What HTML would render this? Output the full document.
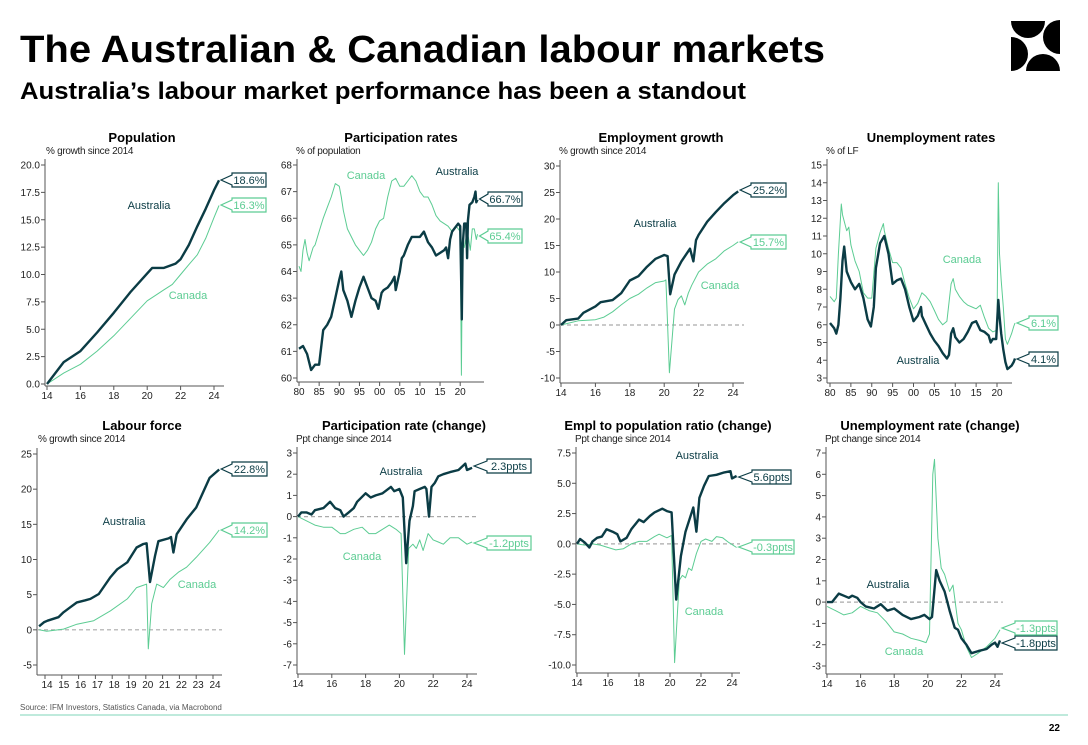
<!DOCTYPE html>
<html><head><meta charset="utf-8"><style>
html,body{margin:0;padding:0;background:#fff;}
svg{display:block;font-family:"Liberation Sans",Arial,sans-serif;}
</style></head><body>
<svg id="root" width="1088" height="745" viewBox="0 0 1088 745">
<text x="20" y="62" font-size="38" font-weight="bold" fill="#000" textLength="805" lengthAdjust="spacingAndGlyphs">The Australian &amp; Canadian labour markets</text>
<text x="20" y="99" font-size="24" font-weight="bold" fill="#000" textLength="726" lengthAdjust="spacingAndGlyphs">Australia’s labour market performance has been a standout</text>
<g>
<path d="M1011 21 A17 17 0 0 0 1045 21 Z" fill="#000"/>
<path d="M1060 20 A17 17 0 0 0 1060 54 Z" fill="#000"/>
<path d="M1060 71 A17 17 0 0 0 1026 71 Z" fill="#000"/>
<path d="M1011 71 A17 17 0 0 0 1011 37 Z" fill="#000"/>
</g>
<g id="charts"></g>
<text x="20" y="710" font-size="8" fill="#555">Source: IFM Investors, Statistics Canada, via Macrobond</text>
<line x1="20" y1="715" x2="1068" y2="715" stroke="#7fd6b8" stroke-width="1"/>
<text x="1060" y="731" font-size="10" font-weight="bold" fill="#000" text-anchor="end">22</text>
</svg>
<script>
// ---- data ----
const popDates=[14,15,16,17,18,19,20,20.3,21,21.7,22,22.5,23,23.5,24,24.3];
const popAus=[0,2,3,4.7,6.5,8.4,10.1,10.6,10.6,11,11.4,12.7,14.4,16,17.7,18.6];
const popCanDates=[14,15,16,17,18,19,20,20.5,21,21.5,22,22.5,23,23.5,24,24.3];
const popCan=[0,1,1.8,3,4.4,6,7.6,8.1,8.6,9.1,10,10.9,11.8,13.3,15.2,16.3];

const partAusDates=[80,81,82,83,84,85,86,87,88,89,90,90.5,91,92,93,94,95,96,97,98,99,99.7,100.5,101,102,103,103.7,104,105,105.5,106,107,108,109,110,111,112,113,114,115,116,116.5,117,117.5,118,119,119.5,120,120.3,120.4,120.6,121,121.5,121.7,121.9,122.3,123,123.5,123.8,124,124.3];
const partAus=[61.1,61.2,60.9,60.3,60.5,60.5,61.8,62,62.3,63,63.7,64,63.3,62.9,62.3,62.9,63.4,63.8,63.4,63,62.9,62.6,63.2,63.3,63.4,63.6,63.8,63.3,64,64.5,64.6,65,65.3,65.3,65.3,65.5,65.1,64.9,64.6,64.7,64.8,64.9,64.5,65.2,65.5,65.7,65.8,65.7,63.2,62.2,64.9,65.8,65.8,64.5,65.9,66.5,66.6,66.8,67,66.6,66.7];
const partCanDates=[80,80.5,81,81.5,82,82.5,83.5,84,85,86,87,88,89,90,90.5,91,92,93,94,95,96,97,98,99,100,101,102,103,104,105,106,107,108,109,110,111,112,113,114,115,116,117,118,119,120,120.3,120.5,120.8,121,121.5,122,122.5,123,123.5,124,124.3];
const partCan=[64.2,64,64.8,65.2,64.7,64.4,64.9,65,65.5,66,66.4,66.8,67.3,67.2,66.8,66.3,65.6,65.3,65,64.8,64.6,64.8,65.1,65.6,65.9,66,66.8,67.4,67.5,67.2,67.2,67.4,67.6,67.4,67,66.8,66.8,66.5,66.1,65.9,65.8,65.7,65.5,65.7,65.5,60.1,63.9,65,64.9,65.3,65.3,64.8,65.6,65.6,65.2,65.4];

const empAusDates=[14,14.3,15,15.3,16,16.3,17,17.5,18,18.5,19,19.5,20,20.2,20.35,20.6,21,21.5,21.7,21.85,22,22.5,23,23.5,24,24.3];
const empAus=[0,0.9,1.2,2.3,3.5,4.3,4.7,6,8.4,9.2,11,12.5,13.2,13,5.8,9.5,12,14.4,12,16,17,19.5,21.3,23,24.5,25.2];
const empCanDates=[14,15,16,16.5,17,17.5,18,18.5,19,19.5,20,20.1,20.3,20.6,20.8,21,21.2,21.4,21.6,22,22.5,23,23.5,24,24.3];
const empCan=[0,0.8,1,1.5,2.5,3.8,5,5.8,7,8,8.3,8.5,-9,3,4.8,5.5,3.8,6,7.5,10,11.5,12.5,14,15,15.7];

const unAusDates=[80,81,81.5,82,82.5,83,83.4,84,85,86,87,88,89,89.8,90.5,91,92,93,94,95,96,97,98,99,100,101,101.8,102,103,104,105,106,107,108,108.5,109,109.5,110,111,112,113,114,115,116,117,118,118.5,119,119.8,120.3,120.6,121,121.5,122,122.5,123,123.5,124,124.3];
const unAus=[6.1,5.8,5.5,6,7.5,9.6,10.4,9,8.4,8,8.3,7.5,6.3,5.9,7,9.2,10.6,11,10,8.3,8.5,8.6,8,7,6.2,6.5,7,6.5,6,5.5,5.1,4.8,4.4,4.1,4.3,5.5,5.8,5.3,5,5.2,5.6,6.1,6.2,5.7,5.6,5.4,5,5.2,5.2,7.4,6.5,5.5,4.6,3.9,3.5,3.6,3.7,3.9,4.1];
const unCanDates=[80,81,81.5,82,82.7,83,84,84.5,85,86,87,88,89,90,91,92,92.8,93,94,95,96,97,98,99,100,101,102,103,104,105,106,107,108,109,109.5,110,111,112,113,114,115,116,117,118,119,120,120.3,120.6,121,121.5,122,122.5,123,123.5,124,124.3];
const unCan=[7.6,7.3,7.5,10,12.8,12.2,11.3,11.5,10.5,9.6,9,7.8,7.5,7.5,10.3,11.2,11.7,11.3,10.3,9.5,9.5,9.2,8.3,7.5,6.9,7.2,7.8,7.6,7.3,6.8,6.3,6,6.2,8.3,8.6,8,7.6,7.3,7.1,7,6.9,7.1,6.4,5.8,5.6,5.7,14,10,8.5,7,5.2,4.9,5.2,5.5,5.9,6.1];

const lfAusDates=[13.65,13.95,14.15,14.8,15.1,15.5,15.9,16.4,16.7,17.2,17.9,18.3,18.9,19.45,19.85,20.05,20.25,20.55,20.75,21.35,21.5,21.64,21.84,22.43,23,23.8,24.37];
const lfAus=[0.5,1.1,1.3,1.8,2.5,3.2,3.9,4.2,4.4,5.1,7.5,8.6,9.6,11.7,12.2,12.3,6.8,10.5,12.6,13,13.2,11,13.6,15.7,17.4,21.6,22.8];
const lfCanDates=[13.65,14.1,15.1,15.9,16.9,17.9,18.9,19.45,20.05,20.15,20.35,20.65,21.05,21.45,21.94,22.43,23,23.8,24.37];
const lfCan=[0,-0.2,0.1,0.8,1.3,2.7,4.4,6,6.5,-2.7,3.7,6.5,6,7.2,8.2,8.9,10.3,12.4,14.2];

const prcAusDates=[14,14.2,14.5,14.8,15,15.5,15.9,16.2,16.5,16.7,17,17.3,17.5,18,18.3,18.6,19,19.5,19.7,20,20.2,20.4,20.6,20.8,20.9,21.2,21.5,21.6,21.75,21.9,22.1,22.3,22.6,23,23.5,23.9,24,24.3];
const prcAus=[0,0.2,0.2,0.1,0.3,0.4,0.7,0.4,0.3,0,0.2,0.4,0.7,1.1,0.9,1,1.1,1.4,1.2,1.3,0.9,-2.2,-0.2,0.5,1.2,1.3,1.4,1.3,0,1.4,1.6,1.9,2,2.1,2.2,2.5,2.2,2.3];
const prcCanDates=[14,14.5,15,15.5,16,16.5,16.8,17.3,17.8,18.2,18.6,19,19.4,19.8,20.1,20.3,20.55,20.8,21,21.2,21.4,21.7,22,22.3,22.6,23,23.5,24,24.3];
const prcCan=[0,-0.2,-0.4,-0.5,-0.5,-0.8,-0.8,-0.6,-0.5,-0.8,-0.8,-0.6,-0.4,-0.6,-0.8,-6.5,-1.5,-1.3,-1.5,-1.1,-1.6,-0.8,-1.1,-1.2,-1.3,-1,-1,-1.3,-1.2];

const eprAusDates=[14,14.2,14.5,14.8,15,15.3,15.6,15.9,16.3,16.6,16.8,17.2,17.5,18,18.3,18.7,19,19.5,19.8,20.1,20.4,20.7,21,21.5,21.7,21.9,22.2,22.5,23,23.5,23.9,24,24.3];
const eprAus=[0,0.4,0.1,-0.3,0.2,0.5,0.6,1.2,1,0.8,0.2,0.5,1.2,2,1.8,2.3,2.6,2.9,2.7,2.6,-4.6,-1,1,3,1,3.8,4.8,5.6,5.7,5.9,6,5.4,5.6];
const eprCanDates=[14,14.5,15,15.5,16,16.5,17,17.5,18,18.5,19,19.3,19.8,20.1,20.3,20.6,20.8,21,21.2,21.4,21.7,22,22.3,22.7,23,23.4,23.8,24.3];
const eprCan=[0,-0.1,0,-0.1,-0.3,-0.5,-0.4,0,0.2,0.2,0.6,0.8,0.5,0.7,-9.8,-3,-2.6,-2.8,-2,-2.2,-0.8,0.2,0.4,0.2,0.6,0.5,0.1,-0.3];

const urcAusDates=[14,14.3,14.7,15,15.3,15.5,15.8,16,16.3,16.8,17.2,17.6,18,18.5,19,19.5,19.8,20.1,20.25,20.5,20.7,21,21.3,21.6,21.8,22,22.3,22.6,23,23.5,23.8,24,24.15,24.3];
const urcAus=[0,0,0.4,0.3,0.2,0.3,0.2,0,-0.2,-0.3,-0.1,-0.4,-0.3,-0.6,-0.8,-0.7,-0.6,-0.8,-0.7,1.5,1,0.5,-0.4,-1.2,-1.3,-1.7,-2,-2.4,-2.3,-2.2,-2,-1.9,-2.1,-1.8];
const urcCanDates=[14,14.5,15,15.5,16,16.5,17,17.5,18,18.5,19,19.5,19.9,20.1,20.3,20.4,20.6,20.8,21,21.3,21.5,21.8,22,22.3,22.6,23,23.5,24,24.3];
const urcCan=[-0.2,-0.4,-0.6,-0.5,-0.2,-0.4,-0.5,-0.9,-1.4,-1.5,-1.7,-1.8,-1.9,-1.5,6,6.7,3,1.6,1.3,0.5,0.8,-1,-1.3,-2.1,-2.6,-2.4,-2.1,-1.7,-1.3];

const popTicks=[0,2.5,5,7.5,10,12.5,15,17.5,20];
const partTicks=[60,61,62,63,64,65,66,67,68];
const empTicks=[-10,-5,0,5,10,15,20,25,30];
const unTicks=[3,4,5,6,7,8,9,10,11,12,13,14,15];
const lfTicks=[-5,0,5,10,15,20,25];
const prcTicks=[-7,-6,-5,-4,-3,-2,-1,0,1,2,3];
const eprTicks=[-10,-7.5,-5,-2.5,0,2.5,5,7.5];
const urcTicks=[-3,-2,-1,0,1,2,3,4,5,6,7];
const shortYears=[14,16,18,20,22,24];
const lfYears=[14,15,16,17,18,19,20,21,22,23,24];
const longYears=[80,85,90,95,100,105,110,115,120];

const DARK='#0b3c45', LIGHT='#5ccc93';
const NS='http://www.w3.org/2000/svg';
const root=document.getElementById('charts');
function mk(tag,attrs,parent){const e=document.createElementNS(NS,tag);for(const k in attrs)e.setAttribute(k,attrs[k]);(parent||root).appendChild(e);return e;}

function panel(cfg){
  const g=mk('g',{});
  
  
  const X=v=>cfg.x0+(v-cfg.xv0)*cfg.ppy;
  const Y=v=>cfg.yTopPx+(cfg.yTop-v)*(cfg.yBotPx-cfg.yTopPx)/(cfg.yTop-cfg.yBot);
  const t=mk('text',{x:cfg.tcx,y:cfg.ty,'font-size':13,'font-weight':'bold','text-anchor':'middle',fill:'#000'},g);t.textContent=cfg.title;
  
  
  const u=mk('text',{x:cfg.ux,y:cfg.ty+12,'font-size':10,fill:'#222','letter-spacing':'-0.3'},g);u.textContent=cfg.unit;
  
  
  const axB=cfg.axisY;
  const ya=mk('line',{x1:cfg.axisX,y1:cfg.yTopPx-6,x2:cfg.axisX,y2:axB,stroke:'#555','stroke-width':1},g);
  
  
  const xa=mk('line',{x1:cfg.axisX,y1:axB,x2:cfg.right,y2:axB,stroke:'#555','stroke-width':1},g);
  
  
  cfg.yticks.forEach(v=>{
    const y=Y(v);
    mk('line',{x1:cfg.axisX-4,y1:y,x2:cfg.axisX,y2:y,stroke:'#555'},g);
    const tx=mk('text',{x:cfg.axisX-5,y:y+3.5,'font-size':10,'text-anchor':'end',fill:'#222'},g);
    tx.textContent=cfg.dec?v.toFixed(1):String(v);
    
    
  });
  cfg.xticks.forEach(v=>{
    const x=X(v);
    mk('line',{x1:x,y1:axB,x2:x,y2:axB+4,stroke:'#555'},g);
    const tx=mk('text',{x:x+(cfg.lblOff||0),y:axB+13,'font-size':10,'text-anchor':'middle',fill:'#222'},g);
    tx.textContent=String(v%100).padStart(2,'0');
    
    
  });
  if(cfg.zero){const z=mk('line',{x1:cfg.axisX,y1:Y(0),x2:cfg.right,y2:Y(0),stroke:'#aaa','stroke-width':1.2,'stroke-dasharray':'4,3'},g);
    
    }
  const line=(d,v,col,w,nm)=>{
    const p=mk('polyline',{points:d.map((x,i)=>X(x).toFixed(1)+','+Y(v[i]).toFixed(1)).join(' '),fill:'none',stroke:col,'stroke-width':w,'stroke-linejoin':'round'},g);
    
    
    return [X(d[d.length-1]),Y(v[v.length-1])];
  };
  const ec=line(cfg.cd,cfg.cv,LIGHT,1,'canada-line');
  const ea=line(cfg.ad,cfg.av,DARK,2.4,'australia-line');
  const call=(end,cy,bx,bw,txt,col,nm)=>{
    const top=cy-7,bot=cy+7,tip=end[0]+2;
    const c=mk('polygon',{points:`${tip},${cy} ${bx},${cy-5} ${bx},${top} ${bx+bw},${top} ${bx+bw},${bot} ${bx},${bot} ${bx},${cy+5}`,fill:'#fff',stroke:col,'stroke-width':1.2},g);
    
    
    const tx=mk('text',{x:bx+bw/2,y:cy+4,'font-size':11,'text-anchor':'middle',fill:col},g);tx.textContent=txt;
    
    
  };
  call(ea,cfg.aCall[0],cfg.aCall[1],cfg.aCall[2],cfg.aCall[3],DARK,'australia');
  call(ec,cfg.cCall[0],cfg.cCall[1],cfg.cCall[2],cfg.cCall[3],LIGHT,'canada');
  const la=mk('text',{x:cfg.aLab[0],y:cfg.aLab[1],'font-size':11,'text-anchor':'middle',fill:DARK},g);la.textContent='Australia';
  
  
  const lc=mk('text',{x:cfg.cLab[0],y:cfg.cLab[1],'font-size':11,'text-anchor':'middle',fill:LIGHT},g);lc.textContent='Canada';
  
  
}

panel({name:'population-chart',title:'Population',unit:'% growth since 2014',tcx:142,ty:142,ux:46,axisX:45,x0:47,xv0:14,ppy:16.7,yTop:20,yTopPx:165,yBot:0,yBotPx:384,axisY:386,right:224,dec:true,yticks:popTicks,xticks:shortYears,ad:popDates,av:popAus,cd:popCanDates,cv:popCan,aCall:[180,232,34,'18.6%'],cCall:[205,232,34,'16.3%'],aLab:[149,209],cLab:[188,299]});
panel({name:'participation-rate-chart',title:'Participation rates',unit:'% of population',tcx:401,ty:142,ux:296,axisX:297,x0:299,xv0:80,ppy:4.03,yTop:68,yTopPx:165,yBot:60,yBotPx:378,axisY:382,right:484,yticks:partTicks,xticks:longYears,ad:partAusDates,av:partAus,cd:partCanDates,cv:partCan,aCall:[199,488,34,'66.7%'],cCall:[236,488,34,'65.4%'],aLab:[457,175],cLab:[366,179]});
panel({name:'employment-growth-chart',title:'Employment growth',unit:'% growth since 2014',tcx:661,ty:142,ux:559,axisX:560,x0:561,xv0:14,ppy:17.2,yTop:30,yTopPx:166,yBot:-10,yBotPx:378,axisY:383,right:744,zero:true,yticks:empTicks,xticks:shortYears,ad:empAusDates,av:empAus,cd:empCanDates,cv:empCan,aCall:[190,751,35,'25.2%'],cCall:[242,751,35,'15.7%'],aLab:[655,227],cLab:[720,289]});
panel({name:'unemployment-rate-chart',title:'Unemployment rates',unit:'% of LF',tcx:931,ty:142,ux:826,axisX:827,x0:830,xv0:80,ppy:4.175,yTop:15,yTopPx:165,yBot:3,yBotPx:378,axisY:383,right:1012,yticks:unTicks,xticks:longYears,ad:unAusDates,av:unAus,cd:unCanDates,cv:unCan,aCall:[359,1029,29,'4.1%'],cCall:[323,1029,29,'6.1%'],aLab:[918,364],cLab:[962,263]});
panel({name:'labour-force-chart',title:'Labour force',unit:'% growth since 2014',tcx:142,ty:430,ux:38,axisX:37,x0:45,xv0:14,ppy:16.8,yTop:25,yTopPx:454,yBot:-5,yBotPx:665,axisY:675,right:222,zero:true,lblOff:2,yticks:lfTicks,xticks:lfYears,ad:lfAusDates,av:lfAus,cd:lfCanDates,cv:lfCan,aCall:[469,232,35,'22.8%'],cCall:[530,232,35,'14.2%'],aLab:[124,525],cLab:[197,588]});
panel({name:'participation-change-chart',title:'Participation rate (change)',unit:'Ppt change since 2014',tcx:404,ty:430,ux:296,axisX:297,x0:298,xv0:14,ppy:16.9,yTop:3,yTopPx:453,yBot:-7,yBotPx:665,axisY:674,right:477,zero:true,yticks:prcTicks,xticks:shortYears,ad:prcAusDates,av:prcAus,cd:prcCanDates,cv:prcCan,aCall:[466,487,44,'2.3ppts'],cCall:[543,487,44,'-1.2ppts'],aLab:[401,475],cLab:[362,560]});
panel({name:'emp-population-change-chart',title:'Empl to population ratio (change)',unit:'Ppt change since 2014',tcx:668,ty:430,ux:575,axisX:576,x0:577,xv0:14,ppy:15.5,yTop:7.5,yTopPx:453,yBot:-10,yBotPx:665,axisY:673,right:740,zero:true,dec:true,yticks:eprTicks,xticks:shortYears,ad:eprAusDates,av:eprAus,cd:eprCanDates,cv:eprCan,aCall:[477,752,39,'5.6ppts'],cCall:[547,752,42,'-0.3ppts'],aLab:[697,459],cLab:[704,615]});
panel({name:'unemployment-change-chart',title:'Unemployment rate (change)',unit:'Ppt change since 2014',tcx:930,ty:430,ux:825,axisX:826,x0:827,xv0:14,ppy:16.8,yTop:7,yTopPx:453,yBot:-3,yBotPx:666,axisY:674,right:1003,zero:true,yticks:urcTicks,xticks:shortYears,ad:urcAusDates,av:urcAus,cd:urcCanDates,cv:urcCan,aCall:[643,1015,42,'-1.8ppts'],cCall:[628,1015,42,'-1.3ppts'],aLab:[888,588],cLab:[904,655]});
</script>
</body></html>
